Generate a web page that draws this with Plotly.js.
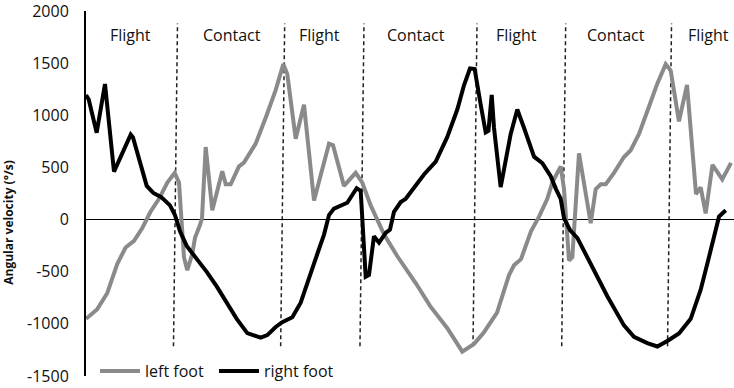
<!DOCTYPE html>
<html>
<head>
<meta charset="utf-8">
<script src="https://cdn.plot.ly/plotly-3.0.1.min.js"></script>
<style>html,body{margin:0;padding:0;background:#fff;}#chart{width:734px;height:388px;}</style>
</head>
<body>
<div id="chart"></div>
<script>
// Time axis (arbitrary units, 0-100 across the plotted stride sequence)
var leftFootTime = [0, 1.74, 3.29, 4.83, 6.11, 7.41, 8.69, 9.95, 11.27, 12.55, 13.69, 14.35, 15.12, 15.63, 16.40, 16.82, 17.59, 17.90, 18.47, 19.49, 21.03, 21.56, 22.33, 23.61, 24.38, 26.19, 27.73, 29.27, 30.45, 31.06, 32.36, 33.64, 35.19, 37.50, 38.12, 39.81, 41.62, 42.64, 43.93, 46.01, 48.05, 50.93, 53.09, 55.76, 58.07, 59.88, 61.42, 63.43, 65.28, 66.05, 67.13, 68.67, 69.91, 71.19, 71.96, 73.26, 73.77, 74.54, 75.05, 76.08, 77.89, 78.66, 79.44, 80.21, 81.48, 83.02, 84.06, 85.34, 86.62, 88.16, 89.46, 90.23, 91.51, 92.75, 94.14, 94.86, 95.63, 96.68, 98.19, 99.54];
var leftFootVel = [-952, -859, -704, -424, -268, -205, -81, 75, 199, 355, 448, 355, -361, -485, -330, -175, -53, 12, 696, 90, 463, 339, 339, 510, 547, 728, 976, 1241, 1490, 1396, 775, 1101, 183, 728, 712, 323, 448, 355, 136, -144, -352, -613, -828, -1042, -1267, -1192, -1080, -893, -532, -439, -380, -112, 28, 199, 355, 510, 292, -392, -361, 635, -35, 292, 339, 339, 448, 600, 665, 821, 1039, 1303, 1490, 1428, 941, 1291, 245, 308, 59, 525, 385, 544];

var rightFootTime = [0, 0.42, 1.65, 2.93, 4.32, 6.90, 7.25, 8.33, 9.37, 10.39, 11.62, 12.96, 13.73, 14.51, 15.54, 17.08, 18.63, 20.17, 21.71, 23.26, 24.89, 26.96, 27.98, 29.27, 30.29, 31.84, 33.13, 33.95, 34.57, 35.69, 36.73, 37.50, 38.27, 39.20, 40.32, 41.77, 42.39, 43.16, 43.67, 44.44, 45.22, 46.25, 46.91, 47.53, 48.57, 49.34, 50.93, 52.16, 53.97, 55.74, 57.30, 58.33, 59.26, 59.98, 60.91, 61.68, 62.11, 62.61, 62.96, 63.99, 65.54, 66.56, 67.59, 68.10, 69.14, 70.42, 71.71, 72.53, 73.26, 73.77, 74.69, 75.82, 77.89, 80.45, 83.02, 84.57, 86.62, 88.16, 89.71, 91.51, 93.32, 94.86, 95.88, 96.91, 97.69, 98.72];
var rightFootVel = [1195, 1151, 833, 1300, 460, 815, 787, 544, 323, 255, 215, 136, 43, -112, -252, -377, -501, -641, -797, -952, -1089, -1133, -1108, -1030, -984, -937, -797, -641, -517, -330, -144, 43, 105, 133, 161, 301, 276, -548, -532, -159, -221, -128, -97, 75, 168, 199, 323, 432, 556, 790, 1055, 1288, 1449, 1443, 1101, 836, 852, 1195, 883, 311, 821, 1055, 880, 787, 603, 541, 416, 292, 199, 12, -100, -175, -424, -735, -1015, -1124, -1185, -1217, -1164, -1092, -952, -672, -424, -175, 28, 90];

// Phases
var phaseBoundaries = [13.81, 30.35, 42.59, 60.03, 73.72, 90.05];
var phaseLabels = ["Flight", "Contact", "Flight", "Contact", "Flight", "Contact", "Flight"];
var phaseLabelTime = [6.94, 22.53, 36.11, 51.00, 66.51, 81.79, 96.14];

var yTicks = [-1500, -1000, -500, 0, 500, 1000, 1500, 2000];
var seriesNames = ["left foot", "right foot"];

var FONT = "Open Sans, Noto Sans, sans-serif";
var lean = 0.31;
var shapes = phaseBoundaries.map(function (b) {
  return {type: "line", xref: "x", yref: "y", x0: b - lean, x1: b + lean, y0: -1215, y1: 1880,
          line: {color: "#222", width: 1.5, dash: "4px,3px"}, layer: "below"};
});
var annotations = phaseLabels.map(function (t, i) {
  return {xref: "x", yref: "y", x: phaseLabelTime[i], y: 1770, text: t, showarrow: false,
          font: {family: FONT, size: 16, color: "#111"}, xanchor: "center", yanchor: "middle"};
});
annotations.push({xref: "paper", yref: "y", x: -0.1188, y: -30, text: "<b>Angular velocity (°/s)</b>",
  textangle: -90, showarrow: false, xanchor: "center", yanchor: "middle",
  font: {family: FONT, size: 12, color: "#111"}});

var traces = [
  {x: leftFootTime, y: leftFootVel, name: seriesNames[0], type: "scatter", mode: "lines",
   line: {color: "#8a8a8a", width: 4}},
  {x: rightFootTime, y: rightFootVel, name: seriesNames[1], type: "scatter", mode: "lines",
   line: {color: "#000", width: 4}}
];

var layout = {
  width: 734, height: 388,
  margin: {l: 86, r: 0, t: 11, b: 11, pad: 0},
  paper_bgcolor: "#fff", plot_bgcolor: "#fff",
  showlegend: true,
  legend: {orientation: "h", x: 0.0139, xanchor: "left", y: 0.014, yanchor: "middle",
           font: {family: FONT, size: 16, color: "#111"}, bgcolor: "rgba(0,0,0,0)",
           entrywidth: 64, entrywidthmode: "pixels", itemwidth: 40},
  xaxis: {range: [0, 100], visible: false, showgrid: false, zeroline: false, fixedrange: true},
  yaxis: {range: [-1500, 2000], tickvals: yTicks, ticktext: yTicks.map(String), showgrid: false,
          showline: true, linecolor: "#000", linewidth: 2, ticks: "",
          zeroline: true, zerolinecolor: "#000", zerolinewidth: 1.5, ticklabeloverflow: "allow",
          tickfont: {family: FONT, size: 16, color: "#111"}, ticklabelstandoff: 12, fixedrange: true},
  shapes: shapes,
  annotations: annotations
};

Plotly.newPlot("chart", traces, layout, {displayModeBar: false, staticPlot: true});
</script>
</body>
</html>
